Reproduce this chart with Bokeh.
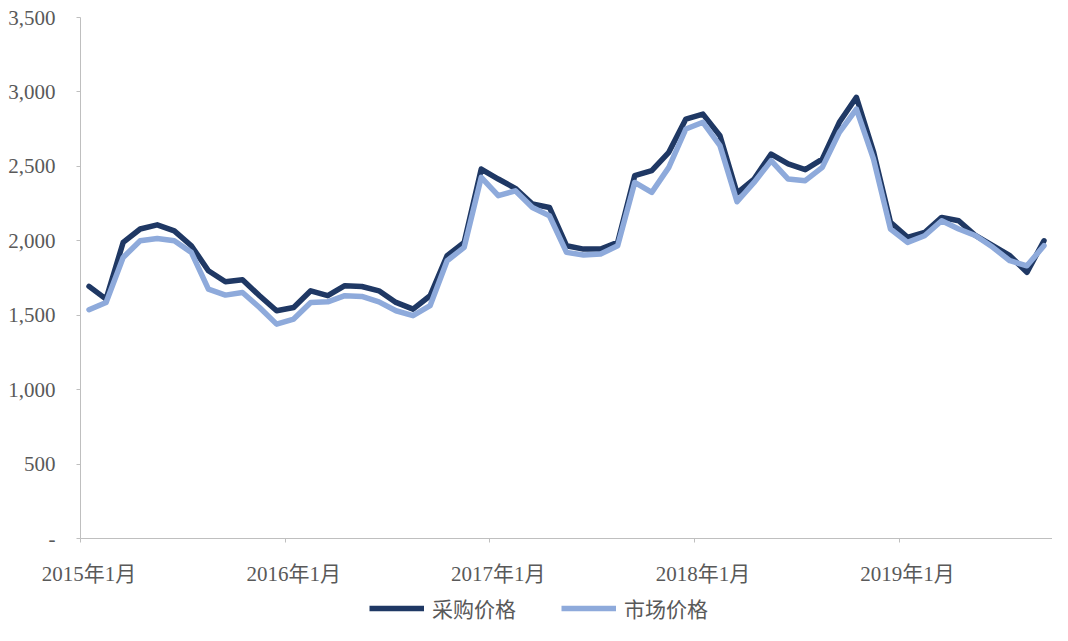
from bokeh.plotting import figure
from bokeh.layouts import column
from bokeh.models import FixedTicker, Range1d, Legend, LegendItem, ColumnDataSource
from bokeh.embed import file_html
from bokeh.resources import INLINE

# ---- data ----
months = [f"{y}年{m}月" for y in range(2015, 2020) for m in range(1, 13)][:57]
purchase_price = [1694, 1608, 1989, 2079, 2107, 2067, 1967, 1799, 1725, 1738, 1631,
                  1530, 1552, 1664, 1631, 1698, 1693, 1664, 1586, 1541, 1631, 1900, 1989,
                  2482, 2415, 2352, 2247, 2224, 1967, 1944, 1944, 1989, 2437, 2471,
                  2594, 2818, 2851, 2706, 2320, 2415, 2583, 2516, 2478, 2549, 2796, 2964,
                  2600, 2124, 2023, 2056, 2157, 2135, 2034, 1967, 1900, 1788, 2000]
market_price = [1537, 1586, 1888, 2000, 2016, 2000, 1922, 1675, 1635, 1653, 1552,
                1440, 1474, 1586, 1590, 1631, 1626, 1590, 1530, 1497, 1564, 1866, 1956,
                2426, 2303, 2336, 2224, 2168, 1922, 1904, 1911, 1967, 2392, 2325,
                2493, 2751, 2796, 2639, 2262, 2392, 2538, 2415, 2404, 2493, 2728, 2885,
                2550, 2079, 1989, 2034, 2135, 2079, 2034, 1956, 1866, 1832, 1967]
series_names = ["采购价格", "市场价格"]
y_ticks = [0, 500, 1000, 1500, 2000, 2500, 3000, 3500]
y_tick_labels = ["-", "500", "1,000", "1,500", "2,000", "2,500", "3,000", "3,500"]

colors = ["#1F3864", "#8EAADB"]
idx = list(range(len(months)))
src = ColumnDataSource(dict(x=idx, a=purchase_price, b=market_price))

p = figure(width=1052, height=592, output_backend="svg", toolbar_location=None,
           x_range=Range1d(-0.5, len(months) - 0.5), y_range=Range1d(0, 3500),
           min_border_left=80, min_border_right=0, min_border_top=17, min_border_bottom=54)
p.outline_line_color = None
p.xgrid.grid_line_color = None
p.ygrid.grid_line_color = None

r1 = p.line("x", "a", source=src, line_color=colors[0], line_width=5.5, line_join="round", line_cap="round")
r2 = p.line("x", "b", source=src, line_color=colors[1], line_width=5.5, line_join="round", line_cap="round")

axis_font = "Liberation Serif, Noto Sans CJK SC"
label_ticks = [i for i in idx if i % 12 == 0]
p.xaxis.ticker = FixedTicker(ticks=label_ticks, minor_ticks=[i - 0.5 for i in label_ticks] + [len(months) - 0.5])
p.xaxis.major_label_overrides = {i: months[i] for i in label_ticks}
p.xaxis.major_tick_line_color = None
p.xaxis.major_tick_in = 0
p.xaxis.major_tick_out = 0
p.xaxis.minor_tick_in = 0
p.xaxis.minor_tick_out = 4
p.xaxis.minor_tick_line_color = "#BFBFBF"
p.xaxis.axis_line_color = "#BFBFBF"
p.xaxis.major_label_text_font = axis_font
p.xaxis.major_label_text_font_size = "21px"
p.xaxis.major_label_text_color = "#595959"
p.xaxis.major_label_standoff = 19

p.yaxis.ticker = FixedTicker(ticks=y_ticks, minor_ticks=[])
p.yaxis.major_label_overrides = {t: l for t, l in zip(y_ticks, y_tick_labels)}
p.yaxis.axis_line_color = "#BFBFBF"
p.yaxis.major_tick_line_color = "#BFBFBF"
p.yaxis.major_tick_in = 0
p.yaxis.major_tick_out = 4
p.yaxis.major_label_text_font = axis_font
p.yaxis.major_label_text_font_size = "21px"
p.yaxis.major_label_text_color = "#595959"
p.yaxis.major_label_standoff = 21

# legend strip below the chart (its lines fall outside this strip's range, so only the legend shows)
lg = figure(width=1052, height=33, output_backend="svg", toolbar_location=None,
            x_range=Range1d(-0.5, len(months) - 0.5), y_range=Range1d(-10, -9),
            x_axis_location=None, y_axis_location=None,
            min_border=0)
lg.outline_line_color = None
lg.xgrid.grid_line_color = None
lg.ygrid.grid_line_color = None
l1 = lg.line(idx, purchase_price, line_color=colors[0], line_width=5.5)
l2 = lg.line(idx, market_price, line_color=colors[1], line_width=5.5)
legend = Legend(items=[LegendItem(label=series_names[0], renderers=[l1]),
                       LegendItem(label=series_names[1], renderers=[l2])],
                orientation="horizontal", location=(289, 2),
                label_text_font="Noto Sans CJK SC", label_text_font_size="21px",
                label_text_color="#595959", glyph_width=55, glyph_height=20,
                spacing=45, border_line_color=None, background_fill_alpha=0,
                margin=0, padding=0, label_standoff=8)
lg.add_layout(legend, "center")

layout = column(p, lg, spacing=0)
open("out.html", "w").write(file_html(layout, INLINE))
